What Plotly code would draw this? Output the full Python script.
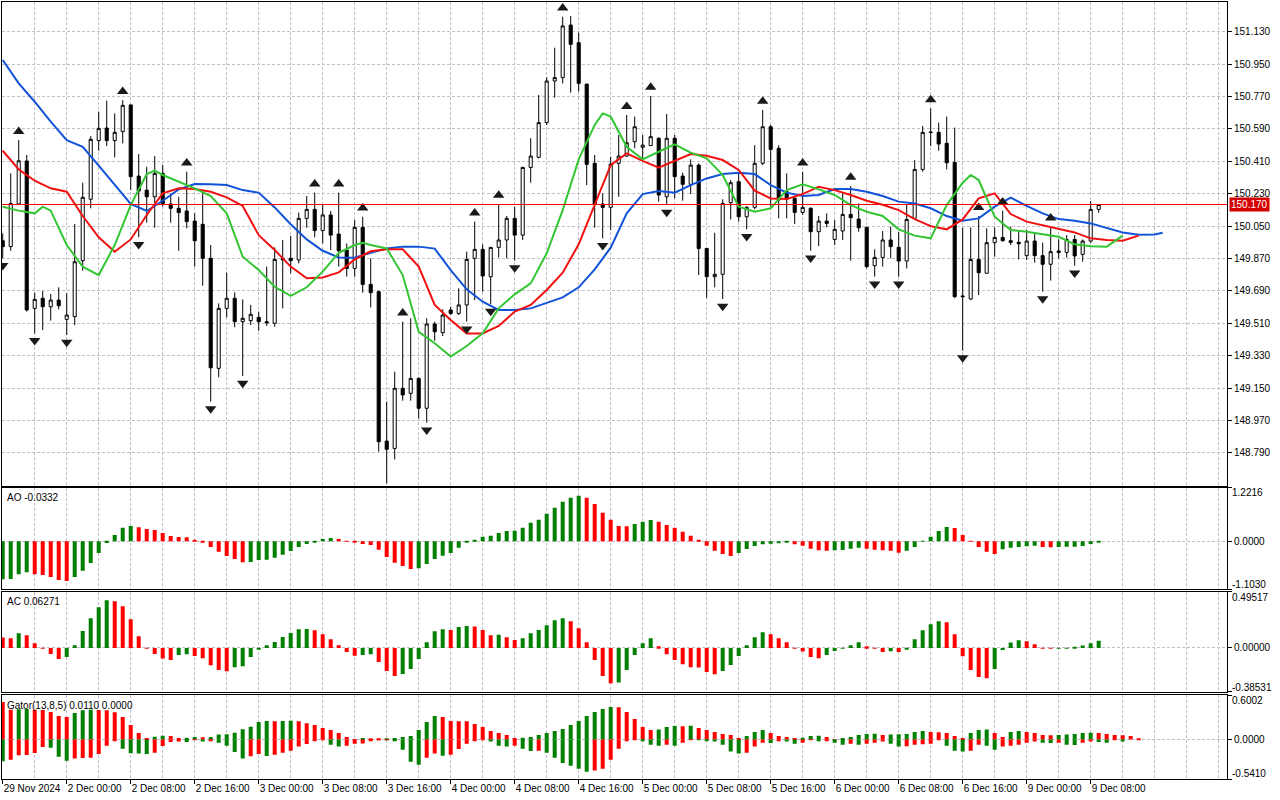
import plotly.graph_objects as go

W, H = 1280, 800

# H1 bars, index 0 = 2 Dec 2024 00:00 (weekend hours are skipped)
bar_idx = list(range(-8, 130))

opens = [149.969, 149.936, 150.173, 150.412, 149.593, 149.649, 149.602, 149.639, 149.532, 149.547,
         149.858, 150.199, 150.525, 150.595, 150.525, 150.575, 150.723, 150.328, 150.250, 150.213,
         150.343, 150.173, 150.149, 150.134, 150.078, 150.060, 149.871, 149.260, 149.593, 149.649,
         149.519, 149.525, 149.543, 149.519, 149.510, 149.871, 149.871, 149.862, 150.093, 150.143,
         150.025, 150.112, 150.006, 149.917, 149.815, 150.043, 149.726, 149.686, 148.856, 148.815,
         149.149, 149.121, 149.204, 149.038, 149.506, 149.458, 149.584, 149.565, 149.612, 149.871,
         149.921, 149.769, 149.932, 149.973, 150.093, 150.000, 150.376, 150.432, 150.625, 150.856,
         150.875, 151.167, 151.069, 150.839, 150.399, 150.173, 150.154, 150.399, 150.439, 150.519,
         150.488, 150.497, 150.538, 150.213, 150.538, 150.328, 150.282, 150.389, 149.926, 149.769,
         149.782, 150.180, 150.297, 150.102, 150.154, 150.399, 150.602, 150.482, 150.241, 150.204,
         150.126, 150.149, 150.019, 150.078, 149.976, 150.023, 150.115, 150.089, 150.043, 149.830,
         149.876, 149.973, 149.932, 149.856, 150.093, 150.365, 150.573, 150.571, 150.510, 150.404,
         149.662, 149.645, 149.865, 149.788, 149.958, 149.987, 149.969, 149.960, 149.886, 149.967,
         149.886, 149.838, 149.912, 149.904, 149.976, 149.893, 149.967, 150.143]
highs = [150.010, 150.343, 150.528, 150.445, 149.680, 149.689, 149.673, 149.710, 149.676, 150.062,
         150.291, 150.550, 150.686, 150.747, 150.676, 150.750, 150.726, 150.450, 150.380, 150.439,
         150.389, 150.232, 150.213, 150.352, 150.121, 150.236, 149.945, 149.621, 149.791, 149.682,
         149.643, 149.612, 149.575, 149.825, 149.932, 149.973, 149.995, 150.125, 150.217, 150.236,
         150.171, 150.134, 150.236, 149.954, 150.084, 150.102, 149.871, 149.691, 149.075, 149.241,
         149.519, 149.538, 149.210, 149.538, 149.519, 149.588, 149.602, 149.704, 149.908, 150.075,
         149.949, 149.932, 150.173, 150.106, 150.158, 150.380, 150.538, 150.778, 150.876, 151.041,
         151.213, 151.217, 151.125, 150.839, 150.445, 150.232, 150.436, 150.556, 150.667, 150.658,
         150.556, 150.773, 150.543, 150.673, 150.556, 150.347, 150.421, 150.399, 149.926, 150.013,
         150.199, 150.306, 150.343, 150.162, 150.500, 150.695, 150.612, 150.500, 150.343, 150.217,
         150.352, 150.154, 150.106, 150.121, 150.084, 150.232, 150.273, 150.176, 150.047, 149.921,
         150.023, 150.047, 150.019, 150.167, 150.417, 150.606, 150.704, 150.625, 150.658, 150.597,
         150.041, 150.043, 150.106, 150.038, 150.043, 150.136, 150.047, 150.028, 150.028, 150.010,
         149.958, 150.047, 149.976, 150.000, 150.000, 149.976, 150.189, 150.173]
lows = [149.871, 149.913, 150.167, 149.575, 149.454, 149.473, 149.525, 149.588, 149.445, 149.500,
        149.802, 150.149, 150.469, 150.495, 150.432, 150.510, 150.250, 149.988, 150.069, 150.041,
        150.158, 150.069, 149.913, 150.038, 149.825, 149.719, 149.075, 149.210, 149.543, 149.488,
        149.217, 149.500, 149.469, 149.495, 149.491, 149.593, 149.788, 149.843, 150.041, 149.988,
        149.954, 149.917, 149.825, 149.769, 149.769, 149.680, 149.599, 148.797, 148.621, 148.754,
        149.080, 149.080, 148.982, 148.958, 149.413, 149.439, 149.556, 149.556, 149.519, 149.639,
        149.686, 149.617, 149.876, 149.871, 149.858, 149.973, 150.291, 150.426, 150.612, 150.763,
        150.843, 150.791, 150.797, 150.278, 150.041, 149.982, 150.028, 150.213, 150.436, 150.482,
        150.421, 150.497, 150.186, 150.167, 150.204, 150.191, 150.228, 149.778, 149.652, 149.710,
        149.645, 150.087, 150.075, 150.032, 150.143, 150.389, 150.158, 150.093, 150.093, 150.062,
        150.112, 149.913, 149.939, 150.043, 149.945, 149.973, 149.858, 150.019, 149.815, 149.769,
        149.825, 149.871, 149.769, 149.815, 150.087, 150.352, 150.495, 150.469, 150.365, 149.649,
        149.358, 149.639, 149.667, 149.788, 149.880, 149.963, 149.945, 149.865, 149.862, 149.847,
        149.686, 149.747, 149.871, 149.875, 149.830, 149.852, 149.958, 150.125]
closes = [149.936, 150.176, 150.413, 149.584, 149.643, 149.602, 149.639, 149.608, 149.556, 149.852,
          150.210, 150.532, 150.593, 150.525, 150.571, 150.721, 150.325, 150.245, 150.213, 150.343,
          150.176, 150.149, 150.125, 150.075, 149.969, 149.871, 149.263, 149.593, 149.649, 149.519,
          149.538, 149.560, 149.519, 149.513, 149.865, 149.863, 149.858, 150.093, 150.143, 150.025,
          150.112, 150.000, 149.913, 149.815, 150.043, 149.726, 149.680, 148.852, 148.810, 149.149,
          149.112, 149.204, 149.038, 149.506, 149.463, 149.556, 149.565, 149.612, 149.865, 149.921,
          149.773, 149.932, 149.973, 150.093, 150.000, 150.376, 150.439, 150.625, 150.856, 150.875,
          151.162, 151.060, 150.843, 150.393, 150.171, 150.154, 150.395, 150.439, 150.513, 150.602,
          150.500, 150.547, 150.223, 150.538, 150.325, 150.282, 150.389, 149.926, 149.769, 149.782,
          150.176, 150.291, 150.102, 150.154, 150.399, 150.602, 150.476, 150.195, 150.200, 150.126,
          150.154, 150.019, 150.078, 150.065, 150.032, 150.115, 150.097, 150.041, 149.825, 149.876,
          149.973, 149.936, 149.856, 150.087, 150.365, 150.571, 150.570, 150.506, 150.402, 149.658,
          149.658, 149.865, 149.791, 149.958, 149.987, 149.969, 149.960, 149.952, 149.967, 149.886,
          149.838, 149.908, 149.904, 149.976, 149.884, 149.967, 150.143, 150.170]

# Alligator (shifted lines, read every other bar)
jaw_idx = list(range(-8, 137, 2)) + [137]
jaw = [150.973, 150.843, 150.741, 150.630, 150.528, 150.491, 150.386, 150.278, 150.173, 150.134,
       150.191, 150.254, 150.284, 150.282, 150.278, 150.250, 150.236, 150.154, 150.060, 149.976,
       149.913, 149.876, 149.874, 149.902, 149.926, 149.936, 149.936, 149.925, 149.806, 149.699,
       149.630, 149.584, 149.584, 149.593, 149.625, 149.654, 149.710, 149.810, 149.930, 150.121,
       150.228, 150.245, 150.236, 150.278, 150.315, 150.339, 150.347, 150.339, 150.278, 150.236,
       150.217, 150.223, 150.256, 150.256, 150.241, 150.217, 150.186, 150.176, 150.149, 150.106,
       150.080, 150.093, 150.158, 150.208, 150.162, 150.121, 150.089, 150.080, 150.065, 150.038,
       150.015, 150.002, 150.004, 150.013]
teeth_idx = list(range(-8, 135, 2))
teeth = [150.469, 150.365, 150.302, 150.260, 150.241, 150.106, 149.988, 149.908, 149.976, 150.112,
         150.232, 150.260, 150.256, 150.241, 150.210, 150.162, 150.000, 149.917, 149.825, 149.760,
         149.765, 149.793, 149.865, 149.910, 149.921, 149.921, 149.825, 149.612, 149.528, 149.454,
         149.454, 149.495, 149.575, 149.612, 149.695, 149.791, 149.949, 150.167, 150.389, 150.454,
         150.412, 150.375, 150.413, 150.450, 150.441, 150.417, 150.362, 150.247, 150.204, 150.200,
         150.228, 150.269, 150.250, 150.223, 150.191, 150.169, 150.139, 150.089, 150.050, 150.032,
         150.087, 150.204, 150.232, 150.117, 150.075, 150.056, 150.038, 150.015, 149.982, 149.973,
         149.969, 149.997]
lips_idx = [-8, -6, -4, -3, -2, 0, 2, 4, 6, 8, 10, 11, 12, 14, 16, 18, 20, 22, 24, 26, 28, 30,
            32, 34, 36, 37, 38, 40, 42, 44, 46, 48, 50, 52, 54, 56, 58, 60, 62, 64, 66, 67, 68,
            70, 72, 74, 76, 78, 80, 82, 84, 86, 88, 90, 92, 94, 96, 98, 100, 102, 104, 106, 108,
            110, 112, 113, 114, 116, 118, 120, 122, 124, 126, 128, 130, 132]
lips = [150.158, 150.136, 150.121, 150.158, 150.136, 149.945, 149.825, 149.778, 149.945, 150.167,
        150.339, 150.358, 150.334, 150.297, 150.260, 150.217, 150.121, 149.880, 149.806, 149.713,
        149.662, 149.710, 149.797, 149.902, 149.945, 149.958, 149.945, 149.926, 149.778, 149.463,
        149.399, 149.325, 149.384, 149.454, 149.593, 149.671, 149.732, 149.899, 150.139, 150.421,
        150.612, 150.676, 150.658, 150.491, 150.421, 150.463, 150.504, 150.458, 150.426, 150.334,
        150.158, 150.130, 150.149, 150.250, 150.282, 150.254, 150.223, 150.167, 150.130, 150.106,
        150.032, 149.997, 149.982, 150.167, 150.291, 150.334, 150.306, 150.102, 150.028, 150.019,
        150.006, 149.991, 149.949, 149.938, 149.936, 149.997]

# Fractals (bar indices)
up_frac = [-6, 7, 15, 31, 34, 37, 42, 51, 54, 62, 70, 73, 87, 92, 98, 108, 114, 117, 123]
dn_frac = [-8, -4, 0, 9, 18, 22, 40, 45, 50, 53, 56, 67, 75, 82, 85, 93, 101, 104, 112, 122, 126]

ao = [-0.875, -0.867, -0.760, -0.715, -0.760, -0.776, -0.822, -0.890, -0.913, -0.822,
      -0.676, -0.501, -0.272, -0.043, 0.140, 0.308, 0.347, 0.316, 0.278, 0.255,
      0.186, 0.118, 0.095, 0.087, 0.018, -0.020, -0.134, -0.241, -0.341, -0.409,
      -0.486, -0.478, -0.432, -0.424, -0.379, -0.310, -0.226, -0.134, -0.066, -0.020,
      0.049, 0.072, 0.049, 0.003, -0.035, -0.066, -0.089, -0.195, -0.363, -0.493,
      -0.570, -0.638, -0.623, -0.524, -0.409, -0.333, -0.272, -0.150, -0.035, 0.034,
      0.102, 0.125, 0.186, 0.232, 0.240, 0.308, 0.423, 0.492, 0.629, 0.767,
      0.904, 0.996, 1.041, 0.996, 0.851, 0.652, 0.492, 0.347, 0.339, 0.392,
      0.446, 0.484, 0.446, 0.370, 0.308, 0.217, 0.125, 0.034, -0.104, -0.218,
      -0.295, -0.341, -0.272, -0.180, -0.112, -0.073, -0.058, -0.050, -0.035, -0.073,
      -0.104, -0.173, -0.211, -0.218, -0.211, -0.203, -0.173, -0.150, -0.173, -0.195,
      -0.211, -0.218, -0.264, -0.218, -0.134, 0.004, 0.102, 0.232, 0.324, 0.301,
      0.140, -0.012, -0.134, -0.241, -0.295, -0.188, -0.150, -0.134, -0.119, -0.104,
      -0.134, -0.142, -0.134, -0.130, -0.127, -0.112, -0.066, -0.0332]

ac = [0.091, 0.085, 0.129, 0.112, 0.041, -0.002, -0.053, -0.097, -0.079, 0.023,
      0.150, 0.261, 0.358, 0.420, 0.411, 0.367, 0.252, 0.103, -0.006, -0.053,
      -0.094, -0.106, -0.062, -0.056, -0.070, -0.091, -0.153, -0.194, -0.205, -0.170,
      -0.161, -0.079, -0.009, 0.023, 0.053, 0.097, 0.132, 0.164, 0.167, 0.156,
      0.120, 0.076, 0.023, -0.035, -0.068, -0.062, -0.056, -0.123, -0.203, -0.247,
      -0.229, -0.185, -0.097, 0.050, 0.147, 0.164, 0.158, 0.185, 0.194, 0.188,
      0.158, 0.112, 0.117, 0.094, 0.070, 0.085, 0.129, 0.158, 0.200, 0.244,
      0.261, 0.235, 0.173, 0.050, -0.106, -0.247, -0.311, -0.305, -0.194, -0.062,
      0.041, 0.085, 0.015, -0.056, -0.106, -0.144, -0.170, -0.173, -0.211, -0.232,
      -0.203, -0.150, -0.070, 0.023, 0.094, 0.138, 0.120, 0.085, 0.050, -0.003,
      -0.032, -0.079, -0.091, -0.062, -0.026, -0.006, 0.023, 0.050, 0.015, -0.003,
      -0.035, -0.029, -0.035, -0.009, 0.076, 0.156, 0.208, 0.235, 0.226, 0.120,
      -0.073, -0.194, -0.255, -0.267, -0.185, -0.018, 0.047, 0.068, 0.059, 0.032,
      -0.001, -0.006, -0.004, -0.001, 0.003, 0.021, 0.041, 0.06271]

gator_up_idx = list(range(-8, 135))
gator_up = [0.510, 0.405, 0.410, 0.414, 0.405, 0.401, 0.374, 0.319, 0.306, 0.360,
            0.396, 0.405, 0.401, 0.396, 0.369, 0.306, 0.197, 0.088, 0.020, 0.038,
            0.052, 0.048, 0.020, 0.025, 0.034, 0.029, 0.034, 0.066, 0.070, 0.093,
            0.138, 0.174, 0.238, 0.251, 0.247, 0.251, 0.256, 0.247, 0.220, 0.197,
            0.156, 0.129, 0.088, 0.034, 0.002, 0.020, 0.016, 0.007, 0.018, 0.020,
            0.034, 0.048, 0.129, 0.238, 0.319, 0.306, 0.251, 0.249, 0.247, 0.211,
            0.170, 0.115, 0.088, 0.061, 0.020, 0.023, 0.034, 0.061, 0.088, 0.115,
            0.143, 0.197, 0.251, 0.319, 0.374, 0.414, 0.442, 0.437, 0.374, 0.279,
            0.170, 0.129, 0.134, 0.170, 0.183, 0.179, 0.188, 0.156, 0.129, 0.102,
            0.075, 0.061, 0.020, 0.048, 0.102, 0.129, 0.088, 0.048, 0.034, 0.020,
            0.025, 0.048, 0.052, 0.034, 0.002, 0.020, 0.034, 0.061, 0.075, 0.079,
            0.061, 0.066, 0.070, 0.075, 0.102, 0.115, 0.102, 0.097, 0.088, 0.048,
            0.020, 0.088, 0.129, 0.134, 0.088, 0.034, 0.102, 0.115, 0.102, 0.088,
            0.061, 0.057, 0.061, 0.066, 0.075, 0.088, 0.093, 0.088, 0.075, 0.061,
            0.057, 0.048, 0.011]
gator_dn_idx = list(range(-8, 133))
gator_dn = [-0.297, -0.274, -0.215, -0.211, -0.183, -0.102, -0.111, -0.233, -0.288, -0.260,
            -0.251, -0.247, -0.197, -0.084, -0.016, -0.125, -0.188, -0.192, -0.197, -0.179,
            -0.088, -0.034, -0.029, -0.034, -0.007, -0.029, -0.020, -0.043, -0.084, -0.170,
            -0.260, -0.229, -0.197, -0.224, -0.206, -0.179, -0.152, -0.097, -0.061, -0.020,
            -0.011, -0.070, -0.097, -0.084, -0.057, -0.054, -0.020, -0.007, -0.005, -0.020,
            -0.138, -0.301, -0.342, -0.247, -0.192, -0.220, -0.206, -0.129, -0.057, -0.020,
            -0.002, -0.029, -0.084, -0.097, -0.084, -0.125, -0.156, -0.152, -0.179, -0.247,
            -0.319, -0.356, -0.396, -0.437, -0.423, -0.396, -0.274, -0.125, -0.016, -0.002,
            -0.020, -0.070, -0.084, -0.070, -0.084, -0.043, -0.002, -0.007, -0.020, -0.029,
            -0.070, -0.165, -0.192, -0.179, -0.097, -0.043, -0.048, -0.020, -0.029, -0.057,
            -0.043, -0.007, -0.020, -0.016, -0.043, -0.070, -0.057, -0.070, -0.057, -0.043,
            -0.029, -0.057, -0.097, -0.093, -0.070, -0.066, -0.057, -0.002, -0.084, -0.152,
            -0.165, -0.152, -0.070, -0.084, -0.138, -0.097, -0.084, -0.070, -0.043, -0.029,
            -0.043, -0.048, -0.043, -0.070, -0.075, -0.043, -0.029, -0.034, -0.043, -0.002,
            -0.029]

price_ticks = [151.130, 150.950, 150.770, 150.590, 150.410, 150.230, 150.050,
               149.870, 149.690, 149.510, 149.330, 149.150, 148.970, 148.790]
bid = 150.170
ao_scale = [-1.1030, 1.2216]
ac_scale = [-0.38531, 0.49517]
gator_scale = [-0.5410, 0.6002]

time_idx = [-8, 0, 8, 16, 24, 32, 40, 48, 56, 64, 72, 80, 88, 96, 104, 112, 120, 128]
time_txt = ["29 Nov 2024", "2 Dec 00:00", "2 Dec 08:00", "2 Dec 16:00", "3 Dec 00:00",
            "3 Dec 08:00", "3 Dec 16:00", "4 Dec 00:00", "4 Dec 08:00", "4 Dec 16:00",
            "5 Dec 00:00", "5 Dec 08:00", "5 Dec 16:00", "6 Dec 00:00", "6 Dec 08:00",
            "6 Dec 16:00", "9 Dec 00:00", "9 Dec 08:00"]
grid_idx = list(range(-8, 146, 4))

GREEN, RED = "#008000", "#ff0000"
GRID = "#c6bdca"
FONT = "Liberation Sans, Arial, sans-serif"
FS = 10


def hist_colors(vals, first, use_abs=False):
    out, c = [], first
    for k, v in enumerate(vals):
        if k > 0:
            a, b = (abs(v), abs(vals[k - 1])) if use_abs else (v, vals[k - 1])
            if a > b:
                c = GREEN
            elif a < b:
                c = RED
        out.append(c)
    return out


def ydom(top, bottom):
    return [1 - bottom / H, 1 - top / H]


xdom = [2 / W, 1227 / W]
xrange = [-8.09, 145.04]
panels = {
    "": ydom(2, 485.5),
    "2": ydom(487.8, 589.3),
    "3": ydom(591.7, 691.7),
    "4": ydom(695.3, 779.3),
}

fig = go.Figure()

fig.add_trace(go.Candlestick(
    x=bar_idx, open=opens, high=highs, low=lows, close=closes,
    increasing=dict(line=dict(color="black", width=1), fillcolor="white"),
    decreasing=dict(line=dict(color="black", width=1), fillcolor="black"),
    whiskerwidth=0, hoverinfo="skip", showlegend=False))

for xs, ys, col in [(jaw_idx, jaw, "#1153d8"), (teeth_idx, teeth, "#f01010"),
                    (lips_idx, lips, "#33c633")]:
    fig.add_trace(go.Scatter(x=xs, y=ys, mode="lines", line=dict(color=col, width=2),
                             hoverinfo="skip", showlegend=False))

pos = {k: n for n, k in enumerate(bar_idx)}
fig.add_trace(go.Scatter(
    x=up_frac, y=[highs[pos[k]] + 0.048 for k in up_frac], mode="markers",
    marker=dict(symbol="triangle-up", size=10, color="#1a1a1a"), hoverinfo="skip", showlegend=False))
fig.add_trace(go.Scatter(
    x=dn_frac, y=[lows[pos[k]] - 0.040 for k in dn_frac], mode="markers",
    marker=dict(symbol="triangle-down", size=10, color="#1a1a1a"), hoverinfo="skip", showlegend=False))

fig.add_trace(go.Bar(x=bar_idx, y=ao, width=0.5, marker=dict(color=hist_colors(ao, GREEN), line_width=0),
                     xaxis="x2", yaxis="y2", hoverinfo="skip", showlegend=False))
fig.add_trace(go.Bar(x=bar_idx, y=ac, width=0.5, marker=dict(color=hist_colors(ac, RED), line_width=0),
                     xaxis="x3", yaxis="y3", hoverinfo="skip", showlegend=False))
fig.add_trace(go.Bar(x=gator_up_idx, y=gator_up, width=0.5,
                     marker=dict(color=hist_colors(gator_up, RED, True), line_width=0),
                     xaxis="x4", yaxis="y4", hoverinfo="skip", showlegend=False))
fig.add_trace(go.Bar(x=gator_dn_idx, y=gator_dn, width=0.5,
                     marker=dict(color=hist_colors(gator_dn, GREEN, True), line_width=0),
                     xaxis="x4", yaxis="y4", hoverinfo="skip", showlegend=False))

layout = dict(
    width=W, height=H, margin=dict(l=0, r=0, t=0, b=0),
    paper_bgcolor="white", plot_bgcolor="white",
    font=dict(family=FONT, size=FS, color="black"),
    barmode="relative", boxgap=0.45, showlegend=False,
)

for s, dom in panels.items():
    xa = dict(domain=xdom, range=xrange, anchor="y" + s, showline=True, mirror=True,
              linecolor="black", linewidth=1, zeroline=False, automargin=False,
              showgrid=True, gridcolor=GRID, griddash="3px,2px", gridwidth=1,
              tickmode="array", tickvals=grid_idx, showticklabels=False, ticks="",
              rangeslider=dict(visible=False), fixedrange=True)
    if s == "4":
        xa.update(tickvals=time_idx, ticktext=time_txt, showticklabels=True, ticks="outside",
                  ticklen=4, tickcolor="black", ticklabelposition="outside right", tickangle=0,
                  minor=dict(tickmode="array", tickvals=grid_idx, showgrid=True, gridcolor=GRID,
                             griddash="3px,2px", ticks=""))
    layout["xaxis" + s] = xa

    ya = dict(domain=dom, anchor="x" + s, side="right", showline=True, mirror=True,
              linecolor="black", linewidth=1, zeroline=False, automargin=False,
              showgrid=True, gridcolor=GRID, griddash="3px,2px", gridwidth=1,
              ticks="outside", ticklen=4, tickcolor="black", tickmode="array", fixedrange=True)
    if s == "":
        ya.update(range=[148.609, 151.295], tickvals=price_ticks,
                  ticktext=[f"{v:.3f}" for v in price_ticks])
    elif s == "2":
        ya.update(range=ao_scale, tickvals=[ao_scale[0], 0, ao_scale[1]], ticktext=["", "0.0000", ""])
    elif s == "3":
        ya.update(range=ac_scale, tickvals=[ac_scale[0], 0, ac_scale[1]], ticktext=["", "0.00000", ""])
    else:
        ya.update(range=gator_scale, tickvals=[gator_scale[0], 0, gator_scale[1]],
                  ticktext=["", "0.0000", ""])
    layout["yaxis" + s] = ya

fig.update_layout(**layout)

# bid line and price tag
fig.add_shape(type="line", xref="paper", x0=xdom[0], x1=xdom[1], yref="y", y0=bid, y1=bid,
              line=dict(color="#ff0000", width=1))
ann = [dict(x=1229 / W, y=bid, xref="paper", yref="y", text=f"{bid:.3f}", showarrow=False,
            xanchor="left", yanchor="middle", bgcolor="#d40000", font=dict(color="white", size=FS),
            borderpad=1)]

# indicator captions
for txt, ytop in [(f"AO {ao[-1]:.4f}", 490.0), (f"AC {ac[-1]:.5f}", 594.0),
                  (f"Gator(13,8,5) {gator_up[-1]:.4f} 0.0000", 697.5)]:
    ann.append(dict(x=5 / W, y=1 - ytop / H, xref="paper", yref="paper", text=txt, showarrow=False,
                    xanchor="left", yanchor="top", font=dict(size=FS)))

# min / max labels of the indicator windows
for txt, yc in [(f"{ao_scale[1]:.4f}", 492.3), (f"{ao_scale[0]:.4f}", 584.3),
                (f"{ac_scale[1]:.5f}", 597.3), (f"{ac_scale[0]:.5f}", 687.3),
                (f"{gator_scale[1]:.4f}", 700.0), (f"{gator_scale[0]:.4f}", 773.3)]:
    ann.append(dict(x=1230 / W, y=1 - yc / H, xref="paper", yref="paper", text=txt, showarrow=False,
                    xanchor="left", yanchor="middle", font=dict(size=FS)))

fig.update_layout(annotations=ann)

fig.write_html("out.html", config={"displayModeBar": False},
               post_script="document.body.style.margin='0px';document.body.style.overflow='hidden';")
